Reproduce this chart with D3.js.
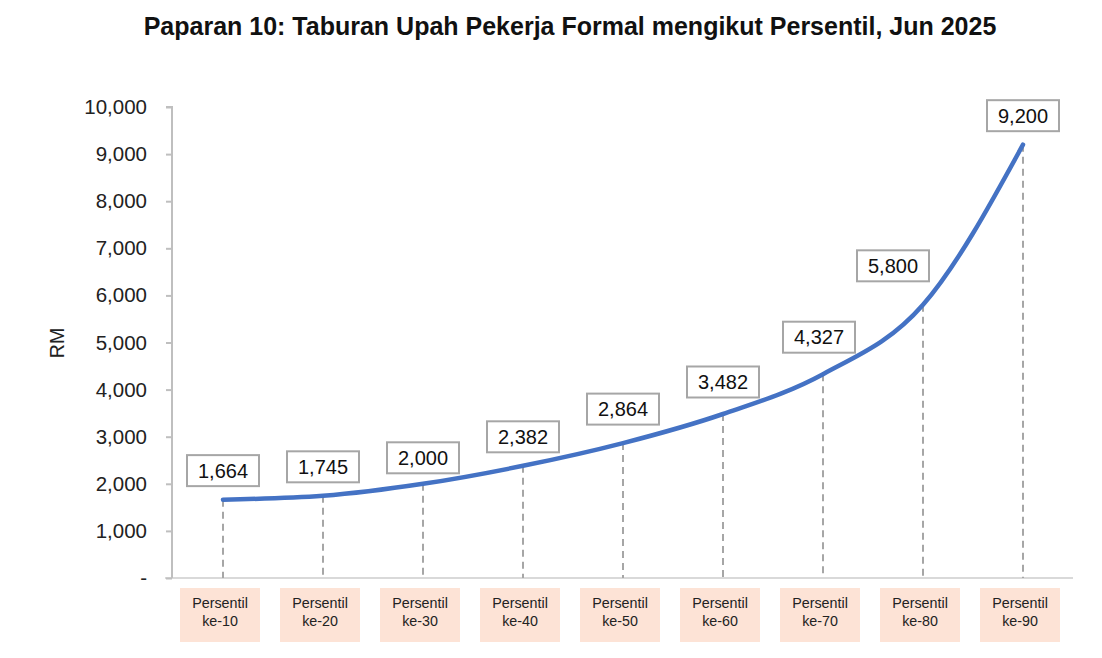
<!DOCTYPE html>
<html>
<head>
<meta charset="utf-8">
<script src="https://cdn.jsdelivr.net/npm/d3@7"></script>
<style>
  body { margin: 0; background: #fff; font-family: "Liberation Sans", Arial, sans-serif; }
  .title { font-weight: bold; font-size: 25px; fill: #111; }
  .axis text { font-size: 20.5px; fill: #222; font-family: "Liberation Sans", Arial, sans-serif; }
  .axis path, .axis line { stroke: #bfbfbf; stroke-width: 2; }
</style>
</head>
<body>
<script>
const categories = ["Persentil ke-10", "Persentil ke-20", "Persentil ke-30", "Persentil ke-40", "Persentil ke-50",
  "Persentil ke-60", "Persentil ke-70", "Persentil ke-80", "Persentil ke-90"];
const wages = [1664, 1745, 2000, 2382, 2864, 3482, 4327, 5800, 9200];
const yTicks = [0, 1000, 2000, 3000, 4000, 5000, 6000, 7000, 8000, 9000, 10000];

const width = 1102, height = 658;
const margin = {left: 172, right: 30, top: 107, bottom: 80};
// hand-moved data labels (dx, dy in px)
const labelNudge = {2: [0, 3], 4: [0, -5], 5: [0, -3], 6: [-4, -8], 7: [-30, -10]};

const svg = d3.select("body").append("svg")
  .attr("width", width)
  .attr("height", height);

svg.append("text")
  .attr("class", "title")
  .attr("x", 570)
  .attr("y", 35)
  .style("text-anchor", "middle")
  .text("Paparan 10: Taburan Upah Pekerja Formal mengikut Persentil, Jun 2025");

const xScale = d3.scaleBand()
  .domain(categories)
  .range([margin.left + 1, margin.left + 901]);

const yScale = d3.scaleLinear()
  .domain([0, 10000])
  .range([578, margin.top]);

const cx = (d) => xScale(d) + xScale.bandwidth() / 2;

// x axis baseline only
svg.append("line")
  .attr("x1", margin.left - 7)
  .attr("x2", margin.left + 901)
  .attr("y1", yScale(0))
  .attr("y2", yScale(0))
  .style("stroke", "#d9d9d9")
  .style("stroke-width", 2);

const yAxis = d3.axisLeft(yScale)
  .tickValues(yTicks)
  .tickSize(6)
  .tickPadding(19)
  .tickFormat((d) => d === 0 ? "-" : d3.format(",")(d));

svg.append("g")
  .attr("class", "axis")
  .attr("transform", "translate(" + margin.left + ",0)")
  .call(yAxis)
  .call((g) => g.select(".domain").attr("d", "M-6," + yScale(10000) + "H0V" + yScale(0)));

svg.append("text")
  .attr("transform", "translate(64," + 343 + ") rotate(-90)")
  .style("text-anchor", "middle")
  .style("font-size", "19.5px")
  .style("fill", "#222")
  .text("RM");

const pts = categories.map((c, i) => ({c: c, v: wages[i], i: i}));

// dashed drop lines
svg.selectAll(".drop")
  .data(pts)
  .enter()
  .append("line")
  .attr("class", "drop")
  .attr("x1", (d) => cx(d.c))
  .attr("x2", (d) => cx(d.c))
  .attr("y1", (d) => yScale(d.v))
  .attr("y2", yScale(0))
  .style("stroke", "#a6a6a6")
  .style("stroke-width", 2)
  .style("stroke-dasharray", "7,5");

const line = d3.line()
  .x((d) => cx(d.c))
  .y((d) => yScale(d.v))
  .curve(d3.curveMonotoneX);

svg.append("path")
  .datum(pts)
  .attr("d", line)
  .style("fill", "none")
  .style("stroke", "#4472c4")
  .style("stroke-width", 4.5)
  .style("stroke-linecap", "round");

// value labels in boxes
const labels = svg.selectAll(".vlabel")
  .data(pts)
  .enter()
  .append("g")
  .attr("class", "vlabel")
  .attr("transform", (d) => {
    const n = labelNudge[d.i] || [0, 0];
    return "translate(" + (cx(d.c) + n[0]) + "," + (yScale(d.v) - 29 + n[1]) + ")";
  });

labels.append("rect")
  .attr("x", -36)
  .attr("y", -15.5)
  .attr("width", 72)
  .attr("height", 31)
  .style("fill", "#fff")
  .style("stroke", "#a6a6a6")
  .style("stroke-width", 2);

labels.append("text")
  .attr("y", 7)
  .style("text-anchor", "middle")
  .style("font-size", "20px")
  .style("fill", "#111")
  .text((d) => d3.format(",")(d.v));

// category boxes
const cats = svg.selectAll(".cat")
  .data(categories)
  .enter()
  .append("g")
  .attr("class", "cat")
  .attr("transform", (d) => "translate(" + (cx(d) - 3) + ",588)");

cats.append("rect")
  .attr("x", -40)
  .attr("width", 80)
  .attr("height", 54)
  .style("fill", "#fde3d6");

cats.append("text")
  .style("text-anchor", "middle")
  .style("font-size", "14.3px")
  .style("fill", "#222")
  .selectAll("tspan")
  .data((d) => d.split(" "))
  .enter()
  .append("tspan")
  .attr("x", 0)
  .attr("y", (d, i) => 20 + i * 18)
  .text((d) => d);
</script>
</body>
</html>
